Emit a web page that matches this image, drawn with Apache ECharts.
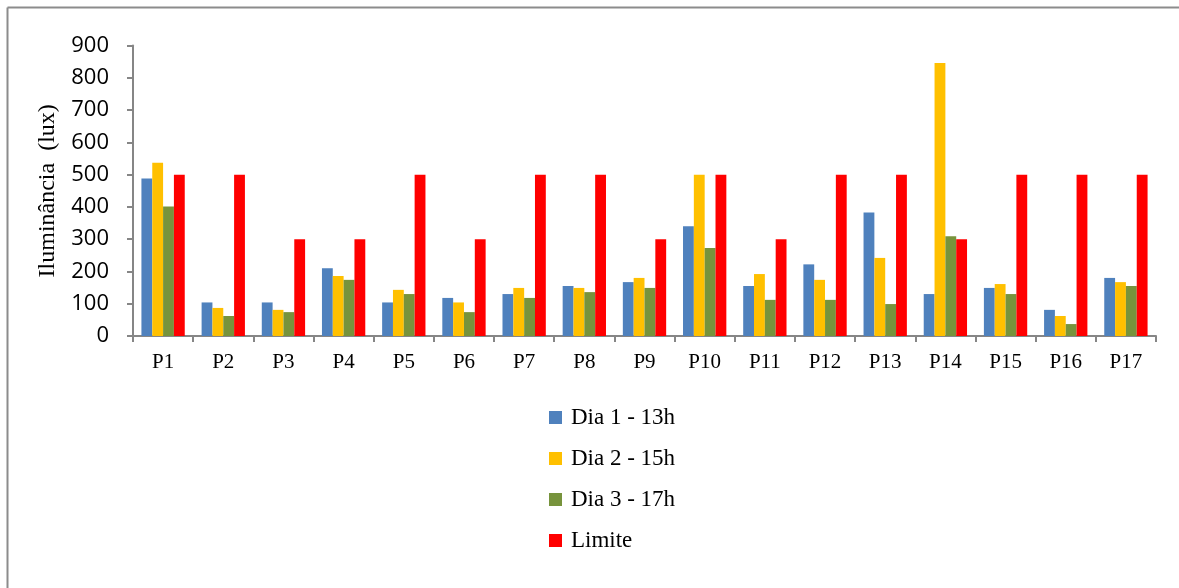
<!DOCTYPE html>
<html>
<head>
<meta charset="utf-8">
<script src="https://cdn.jsdelivr.net/npm/echarts@6/dist/echarts.min.js"></script>
<style>
  html, body { margin: 0; padding: 0; background: #fff; }
  #chart { width: 1179px; height: 588px; }
</style>
</head>
<body>
<div id="chart"></div>
<script>
// Measurement points
const categories = ['P1','P2','P3','P4','P5','P6','P7','P8','P9','P10','P11','P12','P13','P14','P15','P16','P17'];

// Illuminance readings (lux)
const dia1 = [488, 104, 104, 210, 104, 118, 130, 155, 167, 340, 155, 222, 383, 130, 149, 81, 180];
const dia2 = [537, 87, 81, 186, 143, 104, 149, 149, 180, 500, 192, 174, 242, 846, 161, 62, 167];
const dia3 = [401, 62, 74, 174, 130, 74, 118, 136, 149, 273, 112, 112, 99, 309, 130, 37, 155];
const limite = [500, 500, 300, 300, 500, 300, 500, 500, 300, 500, 300, 500, 500, 300, 500, 500, 500];

const seriesNames = ['Dia 1 - 13h', 'Dia 2 - 15h', 'Dia 3 - 17h', 'Limite'];
const seriesColors = ['#4F81BD', '#FFC000', '#77933C', '#FF0000'];
const seriesData = [dia1, dia2, dia3, limite];

const axisColor = '#868686';
const serif = '"Liberation Serif", "Times New Roman", serif';

const chart = echarts.init(document.getElementById('chart'));

chart.setOption({
  animation: false,
  backgroundColor: '#ffffff',
  graphic: [
    { type: 'line', shape: { x1: 7.5, y1: 7.5, x2: 1179, y2: 7.5 },
      style: { stroke: '#8c8c8c', lineWidth: 2 } },
    { type: 'line', shape: { x1: 7.5, y1: 7.5, x2: 7.5, y2: 588 },
      style: { stroke: '#8c8c8c', lineWidth: 2 } }
  ],
  grid: { left: 133, right: 23, top: 45.6, bottom: 252, containLabel: false },
  legend: {
    orient: 'vertical',
    left: 544,
    top: 401,
    itemWidth: 13,
    itemHeight: 13,
    itemGap: 18,
    icon: 'rect',
    data: seriesNames,
    textStyle: {
      fontFamily: serif,
      fontSize: 23,
      color: '#000',
      padding: [0, 0, 0, 4]
    }
  },
  xAxis: {
    type: 'category',
    data: categories,
    axisLine: { lineStyle: { color: axisColor, width: 2 } },
    axisTick: { show: true, length: 6, lineStyle: { color: axisColor, width: 2 } },
    axisLabel: { fontFamily: serif, fontSize: 21, color: '#000', margin: 16 }
  },
  yAxis: {
    type: 'value',
    min: 0,
    max: 900,
    interval: 100,
    name: 'Iluminância  (lux)',
    nameLocation: 'middle',
    nameGap: 73,
    nameTextStyle: { fontFamily: serif, fontSize: 24, color: '#000' },
    axisLine: { show: true, lineStyle: { color: axisColor, width: 2 } },
    axisTick: { show: true, length: 6, lineStyle: { color: axisColor, width: 2 } },
    splitLine: { show: false },
    axisLabel: {
      fontFamily: '"Open Sans", sans-serif',
      fontSize: 22,
      color: '#000',
      margin: 24
    }
  },
  series: seriesNames.map((name, i) => ({
    name: name,
    type: 'bar',
    data: seriesData[i],
    barGap: '0%',
    barCategoryGap: '28%',
    itemStyle: { color: seriesColors[i] }
  }))
});
</script>
</body>
</html>
